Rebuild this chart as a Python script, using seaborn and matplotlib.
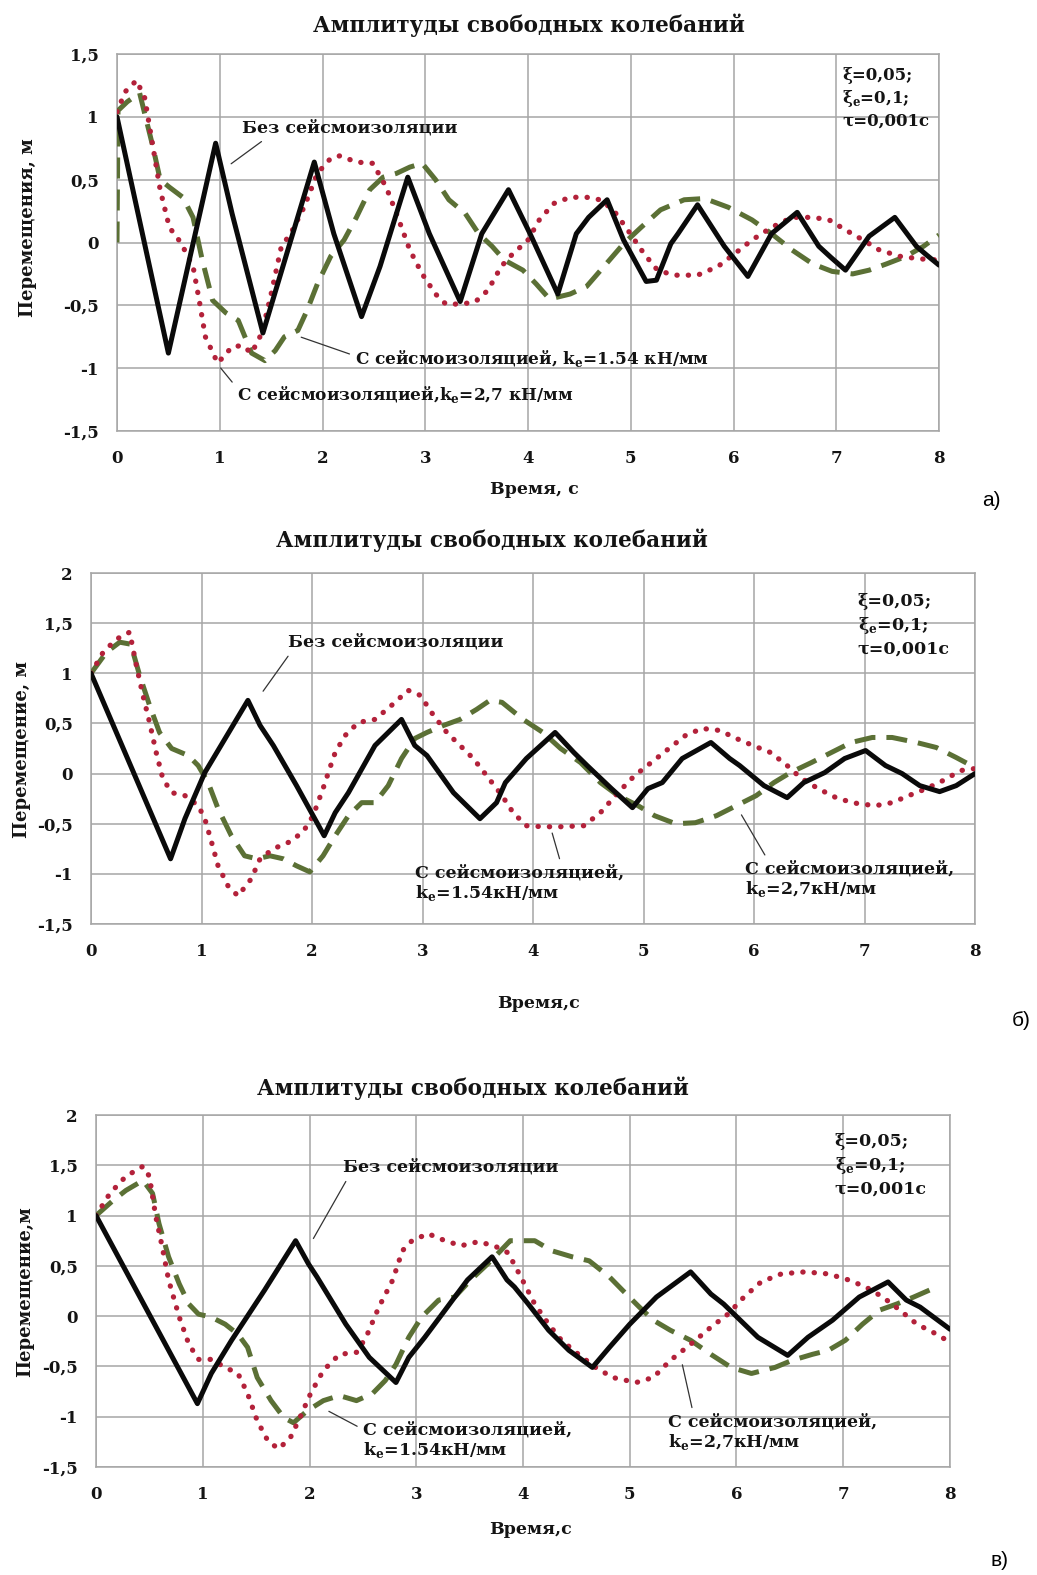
import numpy as np
import pandas as pd
import matplotlib
matplotlib.use("Agg")
import matplotlib.pyplot as plt
import seaborn as sns

sns.set_style("white")
plt.rcParams['font.family'] = ['DejaVu Serif', 'Liberation Serif']
plt.rcParams['font.weight'] = 'bold'
plt.rcParams['mathtext.fontset'] = 'custom'
plt.rcParams['mathtext.rm'] = 'DejaVu Serif:bold'
plt.rcParams['text.color'] = '#141414'
plt.rcParams['xtick.labelcolor'] = '#141414'
plt.rcParams['ytick.labelcolor'] = '#141414'

# ---------------- data ----------------
TITLE = "Амплитуды свободных колебаний"
XLABEL = ["Время, с", "Время,с", "Время,с"]
YLABEL = ["Перемещения, м", "Перемещение, м", "Перемещение,м"]
PANEL = ["а)", "б)", "в)"]
XTICKS = [0, 1, 2, 3, 4, 5, 6, 7, 8]
YTICKS_A = [-1.5, -1, -0.5, 0, 0.5, 1, 1.5]
YTICKLABELS_A = ["-1,5", "-1", "-0,5", "0", "0,5", "1", "1,5"]
YTICKS_BC = [-1.5, -1, -0.5, 0, 0.5, 1, 1.5, 2]
YTICKLABELS_BC = ["-1,5", "-1", "-0,5", "0", "0,5", "1", "1,5", "2"]
PARAMS = "ξ=0,05;\nξ$_\\mathregular{e}$=0,1;\nτ=0,001с"

# Panel a
A_BASE = [(0, 1.0), (0.50, -0.88), (0.96, 0.79), (1.12, 0.23), (1.42, -0.72), (1.92, 0.64),
          (2.11, 0.07), (2.38, -0.59), (2.56, -0.19), (2.83, 0.52), (3.04, 0.07), (3.34, -0.47),
          (3.55, 0.07), (3.81, 0.42), (4.02, 0.07), (4.29, -0.41), (4.47, 0.07), (4.59, 0.20),
          (4.77, 0.34), (4.93, 0.02), (5.15, -0.31), (5.25, -0.30), (5.39, -0.01), (5.46, 0.07),
          (5.65, 0.30), (5.91, -0.03), (6.14, -0.27), (6.37, 0.07), (6.62, 0.24), (6.83, -0.03),
          (6.95, -0.12), (7.09, -0.22), (7.32, 0.05), (7.57, 0.20), (7.78, -0.03), (7.88, -0.10),
          (8.0, -0.18)]
A_K27 = [(0, 1.04), (0.08, 1.20), (0.19, 1.29), (0.27, 1.15), (0.34, 0.81), (0.42, 0.42),
         (0.51, 0.12), (0.62, 0.0), (0.74, -0.19), (0.80, -0.46), (0.86, -0.75), (0.98, -0.96),
         (1.12, -0.83), (1.22, -0.82), (1.31, -0.88), (1.41, -0.72), (1.50, -0.41), (1.60, -0.03),
         (1.69, 0.07), (1.82, 0.28), (1.95, 0.55), (2.08, 0.67), (2.17, 0.69), (2.33, 0.64),
         (2.49, 0.63), (2.62, 0.44), (2.72, 0.23), (2.85, -0.06), (2.97, -0.25), (3.10, -0.41),
         (3.20, -0.49), (3.36, -0.49), (3.49, -0.47), (3.61, -0.38), (3.74, -0.19), (3.84, -0.10),
         (4.0, 0.02), (4.11, 0.18), (4.25, 0.31), (4.41, 0.36), (4.57, 0.36), (4.70, 0.34),
         (4.83, 0.26), (4.97, 0.10), (5.13, -0.09), (5.26, -0.22), (5.42, -0.26), (5.65, -0.26),
         (5.85, -0.19), (6.01, -0.09), (6.18, 0.02), (6.37, 0.12), (6.57, 0.20), (6.77, 0.20),
         (6.93, 0.18), (7.09, 0.10), (7.26, 0.02), (7.42, -0.06), (7.62, -0.11), (7.81, -0.13),
         (8.0, -0.14)]
A_K154 = [(0, 0.0), (0.01, 1.05), (0.10, 1.12), (0.22, 1.19), (0.35, 0.76), (0.42, 0.50),
          (0.51, 0.44), (0.64, 0.36), (0.74, 0.20), (0.83, -0.14), (0.93, -0.46), (1.06, -0.56),
          (1.18, -0.62), (1.31, -0.88), (1.44, -0.94), (1.54, -0.86), (1.63, -0.75), (1.76, -0.70),
          (1.85, -0.54), (1.95, -0.33), (2.08, -0.11), (2.21, 0.02), (2.33, 0.20), (2.46, 0.42),
          (2.59, 0.52), (2.72, 0.55), (2.85, 0.60), (2.97, 0.63), (3.10, 0.50), (3.23, 0.34),
          (3.39, 0.23), (3.52, 0.07), (3.65, -0.03), (3.77, -0.14), (3.95, -0.22), (4.08, -0.33),
          (4.21, -0.45), (4.41, -0.41), (4.57, -0.35), (4.74, -0.19), (4.93, -0.01), (5.10, 0.12),
          (5.29, 0.26), (5.52, 0.34), (5.72, 0.35), (5.95, 0.28), (6.18, 0.18), (6.37, 0.07),
          (6.57, -0.06), (6.77, -0.17), (6.96, -0.23), (7.16, -0.25), (7.32, -0.22), (7.49, -0.17),
          (7.68, -0.11), (7.85, -0.03), (8.0, 0.06)]

# Panel b
B_BASE = [(0, 1.0), (0.72, -0.85), (0.85, -0.45), (1.03, 0.01), (1.42, 0.73), (1.53, 0.48),
          (1.65, 0.28), (1.86, -0.12), (2.11, -0.62), (2.21, -0.39), (2.33, -0.19), (2.57, 0.28),
          (2.81, 0.54), (2.93, 0.28), (3.04, 0.18), (3.28, -0.19), (3.52, -0.45), (3.67, -0.29),
          (3.75, -0.09), (3.94, 0.15), (4.20, 0.41), (4.37, 0.21), (4.49, 0.08), (4.71, -0.15),
          (4.90, -0.34), (5.04, -0.15), (5.17, -0.09), (5.35, 0.15), (5.61, 0.31), (5.78, 0.15),
          (5.87, 0.08), (6.09, -0.12), (6.30, -0.24), (6.45, -0.09), (6.64, 0.01), (6.82, 0.15),
          (7.01, 0.23), (7.19, 0.08), (7.34, 0.0), (7.50, -0.12), (7.68, -0.18), (7.83, -0.12),
          (8.0, 0.0)]
B_K154 = [(0, 1.0), (0.11, 1.21), (0.23, 1.34), (0.35, 1.41), (0.41, 1.08), (0.47, 0.78),
          (0.53, 0.51), (0.59, 0.21), (0.65, -0.05), (0.73, -0.19), (0.85, -0.22), (0.97, -0.32),
          (1.03, -0.45), (1.09, -0.68), (1.15, -0.92), (1.24, -1.12), (1.33, -1.22), (1.45, -1.05),
          (1.53, -0.85), (1.65, -0.75), (1.80, -0.68), (1.92, -0.58), (2.01, -0.42), (2.10, -0.15),
          (2.16, 0.05), (2.21, 0.21), (2.30, 0.38), (2.42, 0.51), (2.57, 0.54), (2.72, 0.68),
          (2.87, 0.83), (2.98, 0.78), (3.10, 0.58), (3.22, 0.41), (3.34, 0.28), (3.46, 0.15),
          (3.58, -0.02), (3.72, -0.22), (3.82, -0.39), (3.94, -0.52), (4.09, -0.53), (4.25, -0.53),
          (4.46, -0.52), (4.61, -0.39), (4.77, -0.19), (4.92, -0.02), (5.07, 0.11), (5.23, 0.25),
          (5.38, 0.38), (5.53, 0.45), (5.69, 0.43), (5.84, 0.35), (5.99, 0.28), (6.15, 0.21),
          (6.30, 0.08), (6.42, -0.04), (6.58, -0.15), (6.76, -0.25), (6.94, -0.30), (7.10, -0.32),
          (7.25, -0.29), (7.40, -0.22), (7.56, -0.15), (7.71, -0.07), (7.87, 0.03), (8.0, 0.05)]
B_K27 = [(0, 1.0), (0.14, 1.21), (0.26, 1.31), (0.36, 1.29), (0.44, 0.98), (0.53, 0.68),
         (0.62, 0.41), (0.73, 0.25), (0.88, 0.18), (0.97, 0.08), (1.06, -0.09), (1.15, -0.35),
         (1.27, -0.62), (1.39, -0.82), (1.50, -0.85), (1.62, -0.82), (1.74, -0.85), (1.86, -0.92),
         (1.98, -0.98), (2.10, -0.82), (2.21, -0.62), (2.33, -0.42), (2.45, -0.29), (2.57, -0.29),
         (2.69, -0.12), (2.81, 0.15), (2.93, 0.35), (3.04, 0.41), (3.19, 0.48), (3.34, 0.54),
         (3.49, 0.64), (3.61, 0.73), (3.72, 0.71), (3.91, 0.54), (4.09, 0.41), (4.25, 0.25),
         (4.43, 0.11), (4.61, -0.09), (4.77, -0.22), (4.95, -0.32), (5.10, -0.42), (5.29, -0.50),
         (5.47, -0.49), (5.66, -0.42), (5.84, -0.32), (6.02, -0.22), (6.18, -0.09), (6.33, 0.01),
         (6.52, 0.11), (6.70, 0.21), (6.88, 0.31), (7.07, 0.36), (7.25, 0.36), (7.47, 0.31),
         (7.65, 0.26), (7.83, 0.16), (8.0, 0.06)]

# Panel c
C_BASE = [(0, 1.0), (0.95, -0.87), (1.08, -0.57), (1.27, -0.24), (1.58, 0.26), (1.87, 0.75),
          (1.99, 0.52), (2.07, 0.39), (2.34, -0.08), (2.56, -0.41), (2.81, -0.66), (2.93, -0.41),
          (3.08, -0.21), (3.27, 0.06), (3.48, 0.36), (3.71, 0.59), (3.85, 0.36), (3.92, 0.29),
          (4.05, 0.12), (4.24, -0.14), (4.43, -0.34), (4.65, -0.51), (4.81, -0.31), (5.0, -0.08),
          (5.25, 0.19), (5.57, 0.44), (5.76, 0.22), (5.88, 0.12), (6.20, -0.21), (6.48, -0.39),
          (6.67, -0.21), (6.90, -0.04), (7.15, 0.19), (7.42, 0.34), (7.59, 0.16), (7.72, 0.09),
          (8.0, -0.13)]
C_K154 = [(0, 1.0), (0.13, 1.22), (0.28, 1.39), (0.44, 1.49), (0.50, 1.39), (0.56, 0.99),
          (0.62, 0.69), (0.68, 0.36), (0.78, -0.01), (0.87, -0.28), (0.96, -0.43), (1.08, -0.43),
          (1.21, -0.51), (1.33, -0.57), (1.42, -0.77), (1.51, -1.04), (1.61, -1.24), (1.71, -1.32),
          (1.82, -1.21), (1.91, -1.01), (2.01, -0.77), (2.13, -0.54), (2.28, -0.38), (2.44, -0.36),
          (2.53, -0.21), (2.65, 0.09), (2.78, 0.36), (2.87, 0.65), (2.96, 0.75), (3.11, 0.82),
          (3.27, 0.75), (3.42, 0.70), (3.58, 0.74), (3.73, 0.70), (3.86, 0.63), (3.98, 0.39),
          (4.11, 0.12), (4.24, -0.08), (4.36, -0.24), (4.52, -0.38), (4.68, -0.51), (4.84, -0.61),
          (5.06, -0.66), (5.22, -0.61), (5.38, -0.44), (5.57, -0.28), (5.76, -0.11), (5.92, 0.02),
          (6.07, 0.19), (6.23, 0.34), (6.42, 0.42), (6.64, 0.44), (6.86, 0.42), (7.05, 0.36),
          (7.21, 0.29), (7.37, 0.19), (7.53, 0.06), (7.69, -0.08), (7.84, -0.16), (7.97, -0.24)]
C_K27 = [(0, 1.0), (0.16, 1.15), (0.28, 1.25), (0.44, 1.35), (0.53, 1.22), (0.59, 0.92),
         (0.68, 0.59), (0.78, 0.32), (0.87, 0.12), (0.96, 0.02), (1.08, -0.01), (1.21, -0.08),
         (1.33, -0.18), (1.42, -0.31), (1.51, -0.61), (1.64, -0.84), (1.76, -1.01), (1.85, -1.06),
         (1.98, -0.94), (2.13, -0.84), (2.28, -0.79), (2.44, -0.84), (2.59, -0.77), (2.71, -0.64),
         (2.81, -0.48), (2.93, -0.21), (3.05, -0.01), (3.21, 0.16), (3.36, 0.19), (3.51, 0.36),
         (3.67, 0.52), (3.79, 0.65), (3.88, 0.75), (4.11, 0.75), (4.27, 0.65), (4.46, 0.59),
         (4.62, 0.55), (4.81, 0.39), (4.93, 0.26), (5.09, 0.09), (5.22, -0.04), (5.38, -0.14),
         (5.57, -0.24), (5.76, -0.38), (5.95, -0.51), (6.14, -0.57), (6.36, -0.51), (6.52, -0.44),
         (6.71, -0.38), (6.86, -0.34), (7.02, -0.24), (7.18, -0.08), (7.34, 0.06), (7.50, 0.12),
         (7.66, 0.19), (7.81, 0.26)]

LBL_BASE = "Без сейсмоизоляции"

# ---------------- styles ----------------
BLACK = "#0a0a0a"
RED = "#b3213a"
GREEN = "#5b7035"
GRID = "#a6a6a6"
STY_SOLID = dict(color=BLACK, lw=3.6, solid_joinstyle='round', solid_capstyle='round', zorder=5)
STY_DOT = dict(color=RED, lw=3.8, linestyle=(0, (0.05, 2.1)), dash_capstyle='round', zorder=4)
STY_DASH = dict(color=GREEN, lw=3.6, linestyle=(0, (4.2, 2.2)), dash_capstyle='butt', zorder=3)

W, H = 1037, 1575
fig = plt.figure(figsize=(W / 100, H / 100), dpi=100)


def fx(px):
    return px / W


def fy(py):
    return 1 - py / H


def make_axes(l, r, t, b):
    return fig.add_axes([fx(l), fy(b), fx(r - l), (b - t) / H])


def draw(ax, pts, sty):
    df = pd.DataFrame(pts, columns=["t", "y"])
    sns.lineplot(data=df, x="t", y="y", ax=ax, sort=False, estimator=None, **sty)


TICK_FS = 12


def style_axes(ax, yticks, ylabels, ylim):
    ax.set_xlim(0, 8)
    ax.set_ylim(*ylim)
    ax.set_xticks(XTICKS)
    ax.set_xticklabels([str(v) for v in XTICKS])
    ax.set_yticks(yticks)
    ax.set_yticklabels(ylabels)
    ax.grid(True, color=GRID, lw=1.1)
    for s in ax.spines.values():
        s.set_color(GRID)
        s.set_linewidth(1.1)
    ax.tick_params(axis='y', length=5, width=1.1, color=GRID, pad=8, labelsize=TICK_FS)
    ax.tick_params(axis='x', length=0, pad=14, labelsize=TICK_FS)
    ax.set_xlabel("")
    ax.set_ylabel("")
    ax.set_axisbelow(True)


ANN_FS = 12.5
ARR = dict(arrowstyle='-', color='#333333', lw=0.9, shrinkA=2, shrinkB=1)

# ---------- panel a ----------
axa = make_axes(117, 939, 54, 431)
draw(axa, A_K154, STY_DASH)
draw(axa, A_K27, STY_DOT)
draw(axa, A_BASE, STY_SOLID)
style_axes(axa, YTICKS_A, YTICKLABELS_A, (-1.5, 1.5))
axa.annotate(LBL_BASE, xy=(1.10, 0.62), xytext=(1.22, 0.91), ha='left', va='center',
             fontsize=ANN_FS, arrowprops=dict(ARR, relpos=(0.12, 0.0)))
axa.annotate("С сейсмоизоляцией, k$_\\mathregular{e}$=1.54 кН/мм", xy=(1.78, -0.75),
             xytext=(2.32, -0.92), ha='left', va='center', fontsize=ANN_FS - 0.3,
             arrowprops=dict(ARR, relpos=(0.0, 0.6)))
axa.annotate("С сейсмоизоляцией,k$_\\mathregular{e}$=2,7 кН/мм", xy=(1.00, -0.99),
             xytext=(1.17, -1.21), ha='left', va='center', fontsize=ANN_FS - 0.3,
             arrowprops=dict(ARR, relpos=(0.0, 0.8)))
axa.text(7.06, 1.40, PARAMS, ha='left', va='top', fontsize=12, linespacing=1.3)

# ---------- panel b ----------
axb = make_axes(91, 975, 573, 924)
draw(axb, B_K27, STY_DASH)
draw(axb, B_K154, STY_DOT)
draw(axb, B_BASE, STY_SOLID)
style_axes(axb, YTICKS_BC, YTICKLABELS_BC, (-1.5, 2))
axb.annotate(LBL_BASE, xy=(1.55, 0.81), xytext=(1.78, 1.31), ha='left', va='center',
             fontsize=ANN_FS, arrowprops=dict(ARR, relpos=(0.02, 0.0)))
axb.annotate("С сейсмоизоляцией,\nk$_\\mathregular{e}$=1.54кН/мм", xy=(4.17, -0.58),
             xytext=(2.93, -1.10), ha='left', va='center', fontsize=ANN_FS, linespacing=1.1,
             arrowprops=dict(ARR, relpos=(0.7, 1.0)))
axb.annotate("С сейсмоизоляцией,\nk$_\\mathregular{e}$=2,7кН/мм", xy=(5.88, -0.40),
             xytext=(5.92, -1.06), ha='left', va='center', fontsize=ANN_FS, linespacing=1.1,
             arrowprops=dict(ARR, relpos=(0.11, 1.0)))
axb.text(6.94, 1.80, PARAMS, ha='left', va='top', fontsize=12.5, linespacing=1.35)

# ---------- panel c ----------
axc = make_axes(96, 950, 1115, 1467)
draw(axc, C_K27, STY_DASH)
draw(axc, C_K154, STY_DOT)
draw(axc, C_BASE, STY_SOLID)
style_axes(axc, YTICKS_BC, YTICKLABELS_BC, (-1.5, 2))
axc.annotate(LBL_BASE, xy=(2.03, 0.76), xytext=(2.31, 1.48), ha='left', va='center',
             fontsize=ANN_FS, arrowprops=dict(ARR, relpos=(0.03, 0.0)))
axc.annotate("С сейсмоизоляцией,\nk$_\\mathregular{e}$=1.54кН/мм", xy=(2.17, -0.94),
             xytext=(2.50, -1.24), ha='left', va='center', fontsize=ANN_FS, linespacing=1.1,
             arrowprops=dict(ARR, relpos=(0.0, 0.8)))
axc.annotate("С сейсмоизоляцией,\nk$_\\mathregular{e}$=2,7кН/мм", xy=(5.49, -0.47),
             xytext=(5.36, -1.16), ha='left', va='center', fontsize=ANN_FS, linespacing=1.1,
             arrowprops=dict(ARR, relpos=(0.12, 1.0)))
axc.text(6.92, 1.82, PARAMS, ha='left', va='top', fontsize=12.5, linespacing=1.35)

# ---------- titles, axis labels, panel letters ----------
for (cx, cy) in [(529, 25), (492, 540), (473, 1088)]:
    fig.text(fx(cx), fy(cy), TITLE, ha='center', va='center', fontsize=15.5)
for lbl, (cx, cy) in zip(XLABEL, [(534, 490), (538, 1003), (530, 1530)]):
    fig.text(fx(cx), fy(cy), lbl, ha='center', va='center', fontsize=12.5)
for lbl, (cx, cy) in zip(YLABEL, [(28, 228), (22, 750), (25, 1292)]):
    fig.text(fx(cx), fy(cy), lbl, ha='center', va='center', fontsize=13, rotation=90)
for lbl, (cx, cy) in zip(PANEL, [(991, 500), (1021, 1020), (1000, 1560)]):
    fig.text(fx(cx), fy(cy), lbl, ha='center', va='center', fontsize=15,
             family='Liberation Sans', weight='normal', color='black')

fig.savefig("out.png", dpi=100, facecolor='white')
